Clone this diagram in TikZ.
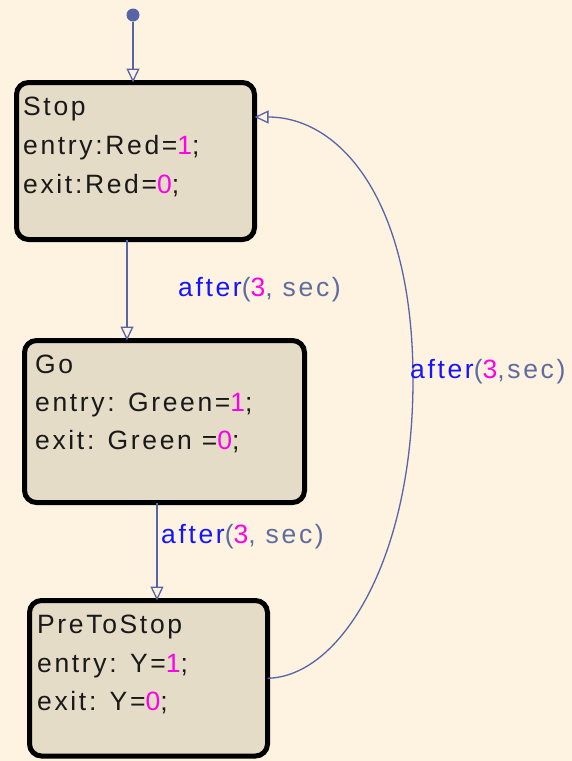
\documentclass[tikz,border=0pt]{standalone}
\usepackage{fontspec}
\setmainfont[LetterSpace=10]{Liberation Sans}
\usetikzlibrary{arrows.meta,calc}
\definecolor{bgc}{RGB}{253,243,224}
\definecolor{boxc}{RGB}{229,220,200}
\definecolor{linec}{RGB}{88,100,168}
\definecolor{magc}{RGB}{255,0,230}
\definecolor{bluec}{RGB}{20,20,255}
\definecolor{grayc}{RGB}{96,108,160}
\definecolor{txtc}{RGB}{25,25,25}
\newcommand{\mg}[1]{\textcolor{magc}{#1}}
\newcommand{\aft}[1]{\textcolor{bluec}{after}\textcolor{grayc}{(}\textcolor{magc}{3}\textcolor{grayc}{,#1sec)}}
\begin{document}
\begin{tikzpicture}[x=1pt,y=-1pt,
  statebox/.style={draw=black, line width=5pt, fill=boxc, rounded corners=12pt, inner sep=0pt, outer sep=0pt},
  stxt/.style={anchor=base west, inner sep=0pt, text=txtc, font=\fontsize{26.5}{30}\selectfont},
  ltxt/.style={anchor=base west, inner sep=0pt, font=\fontsize{26.5}{30}\selectfont},
  conn/.style={draw=linec, line width=1.3pt, -{Triangle[open, length=14pt, width=13pt]}}]
\fill[bgc] (0,0) rectangle (572,761);
\useasboundingbox (0,0) rectangle (572,761);
% states
\node[statebox, minimum width=238pt, minimum height=157pt] (stop) at (135.5,161) {};
\node[statebox, minimum width=280pt, minimum height=162pt] (go) at (164.5,421.5) {};
\node[statebox, minimum width=238pt, minimum height=155.5pt] (pre) at (148.5,678.25) {};
% state texts
\node[stxt] (s1) at (23,115) {Stop};
\node[stxt] (s2) at (23,154) {entry:Red=\mg{1};};
\node[stxt] (s3) at (23,193) {exit:Red=\mg{0};};
\node[stxt] (g1) at (35,373) {Go};
\node[stxt] (g2) at (35,411) {entry: Green=\mg{1};};
\node[stxt] (g3) at (35,449) {exit: Green =\mg{0};};
\node[stxt] (p1) at (37,633) {PreToStop};
\node[stxt] (p2) at (37,672) {entry: Y=\mg{1};};
\node[stxt] (p3) at (37,710) {exit: Y=\mg{0};};
% initial
\node[circle, fill=linec, minimum size=13pt, inner sep=0pt] (init) at (133,15) {};
\draw[conn] (init) -- (init |- stop.north);
% transitions
\coordinate (xa) at (127,0);
\coordinate (xb) at (157,0);
\coordinate (ys) at (0,117);
\draw[conn] (stop.south -| xa) -- (go.north -| xa);
\draw[conn] (go.south -| xb) -- (pre.north -| xb);
\draw[conn] (pre.east) .. controls (340,677) and (413,560) .. (413,380)
  .. controls (413,200) and (340,117) .. (stop.east |- ys);
% labels
\node[ltxt] (l1) at (178,296) {\aft{ }};
\node[ltxt] (l2) at (161,543) {\aft{ }};
\node[ltxt] (l3) at (410,378) {\aft{}};
\end{tikzpicture}
\end{document}
